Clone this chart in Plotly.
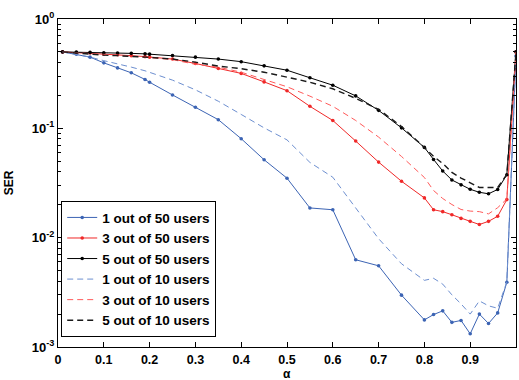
import plotly.graph_objects as go

alpha = [0.01, 0.04, 0.07, 0.10, 0.13, 0.16, 0.19, 0.20, 0.25, 0.30, 0.35, 0.40,
         0.45, 0.50, 0.55, 0.60, 0.65, 0.70, 0.75, 0.80, 0.82, 0.84, 0.86, 0.88,
         0.90, 0.92, 0.94, 0.96, 0.98, 1.00]

ser_1of50 = [0.50, 0.477, 0.448, 0.397, 0.357, 0.322, 0.280, 0.264, 0.202, 0.156, 0.120, 0.0804,
             0.0516, 0.0350, 0.0187, 0.0180, 0.00628, 0.00553, 0.00298, 0.00177, 0.00198, 0.00214,
             0.00168, 0.00175, 0.00132, 0.00200, 0.00164, 0.00205, 0.00391, 0.458]
ser_3of50 = [0.50, 0.493, 0.488, 0.477, 0.472, 0.462, 0.453, 0.448, 0.430, 0.392, 0.353, 0.318,
             0.266, 0.221, 0.159, 0.118, 0.0765, 0.0491, 0.0328, 0.0231, 0.0180, 0.0173,
             0.0162, 0.0150, 0.0141, 0.0132, 0.0141, 0.0157, 0.0223, 0.50]
ser_5of50 = [0.50, 0.498, 0.495, 0.491, 0.488, 0.485, 0.480, 0.477, 0.464, 0.448, 0.430, 0.407,
             0.373, 0.340, 0.290, 0.248, 0.198, 0.146, 0.101, 0.0669, 0.0519, 0.0407,
             0.0337, 0.0304, 0.0277, 0.0260, 0.0252, 0.0276, 0.0376, 0.50]
ser_1of10 = [0.50, 0.477, 0.448, 0.416, 0.391, 0.363, 0.336, 0.326, 0.276, 0.225, 0.177, 0.134,
             0.101, 0.0784, 0.0488, 0.0357, 0.0185, 0.00979, 0.00577, 0.00407, 0.00425, 0.00376,
             0.00300, 0.00248, 0.00200, 0.00264, 0.00238, 0.00226, 0.00395, 0.458]
ser_3of10 = [0.50, 0.493, 0.485, 0.477, 0.467, 0.458, 0.448, 0.443, 0.425, 0.385, 0.363, 0.326,
             0.281, 0.240, 0.197, 0.159, 0.118, 0.0832, 0.0553, 0.0355, 0.0270, 0.0228,
             0.0201, 0.0181, 0.0175, 0.0173, 0.0165, 0.0188, 0.0226, 0.50]
ser_5of10 = [0.50, 0.488, 0.477, 0.467, 0.462, 0.458, 0.448, 0.445, 0.430, 0.403, 0.371, 0.351,
             0.326, 0.294, 0.264, 0.230, 0.188, 0.149, 0.104, 0.0669, 0.0553, 0.0477,
             0.0395, 0.0351, 0.0316, 0.0288, 0.0288, 0.0288, 0.0378, 0.50]

names = ["1 out of 50 users", "3 out of 50 users", "5 out of 50 users",
         "1 out of 10 users", "3 out of 10 users", "5 out of 10 users"]

x_ticks = [0, 0.1, 0.2, 0.3, 0.4, 0.5, 0.6, 0.7, 0.8, 0.9, 1]
x_ticktext = ["0", "0.1", "0.2", "0.3", "0.4", "0.5", "0.6", "0.7", "0.8", "0.9", "1"]
y_ticks = [1e-3, 1e-2, 1e-1, 1]
y_ticktext = ["-3", "-2", "-1", "0"]
y_minor = [m * d for d in (1e-3, 1e-2, 1e-1) for m in range(2, 10)]

BLUE = "#3c64b4"
BLUE_D = "#6d8fd0"
RED = "#f02828"
RED_D = "#ff5a5a"
BLACK = "#000000"
BLACK_D = "#1a1a1a"

FAM = "Liberation Sans, Arial, sans-serif"

fig = go.Figure()
solid = [(ser_1of50, BLUE), (ser_3of50, RED), (ser_5of50, BLACK)]
for (ys, c), nm in zip(solid, names[:3]):
    fig.add_trace(go.Scatter(x=alpha, y=ys, name=nm, mode="lines+markers",
                             line=dict(color=c, width=1),
                             marker=dict(symbol="circle", size=3.6, color=c)))
dashed = [(ser_1of10, BLUE_D, 1), (ser_3of10, RED_D, 1), (ser_5of10, BLACK_D, 1.4)]
for (ys, c, w), nm in zip(dashed, names[3:]):
    fig.add_trace(go.Scatter(x=alpha, y=ys, name=nm, mode="lines",
                             line=dict(color=c, width=w, dash="6px,4px")))

fig.update_layout(
    width=519, height=380,
    margin=dict(l=58, r=3, t=19, b=33),
    paper_bgcolor="white", plot_bgcolor="white",
    font=dict(family=FAM, size=12, color="black"),
    showlegend=True,
    legend=dict(x=0.007, y=0.03, xanchor="left", yanchor="bottom",
                bordercolor="black", borderwidth=1, bgcolor="white",
                font=dict(family=FAM, size=13.5, color="black", weight="bold"),
                itemwidth=30, tracegroupgap=0),
    annotations=[dict(text="<b>α</b>", xref="paper", yref="paper", x=0.5, y=-0.082,
                      xanchor="center", yanchor="middle", showarrow=False,
                      font=dict(family=FAM, size=12, color="black"))],
)
fig.update_xaxes(range=[0, 1], tickvals=x_ticks, automargin=False,
                 ticktext=["<b>%s</b>" % t for t in x_ticktext],
                 tickfont=dict(size=12.5), ticklabelstandoff=1,
                 ticks="inside", ticklen=5, tickcolor="black",
                 showline=True, linecolor="black", linewidth=1, mirror="ticks",
                 showgrid=False, zeroline=False)
fig.update_layout(
    yaxis=dict(type="log", range=[-3, 0], tickvals=y_ticks, automargin=False,
               ticktext=["<b>10</b><sup><b>%s</b></sup>" % t for t in y_ticktext],
               tickfont=dict(size=13),
               ticks="inside", ticklen=5, tickcolor="black",
               showline=True, linecolor="black", linewidth=1, mirror="ticks",
               showgrid=False, zeroline=False,
               title=dict(text="<b>SER</b>", font=dict(size=12))),
    yaxis2=dict(type="log", range=[-3, 0], overlaying="y", anchor="x", side="left",
                tickvals=y_minor, showticklabels=False, automargin=False,
                ticks="inside", ticklen=3, tickcolor="black",
                showline=True, linecolor="black", linewidth=1, mirror="ticks",
                showgrid=False, zeroline=False),
)
# invisible helper trace to activate the minor-tick axis
fig.add_trace(go.Scatter(x=[alpha[0]], y=[ser_1of50[0]], yaxis="y2", mode="markers",
                         marker=dict(opacity=0), showlegend=False, hoverinfo="skip"))

fig.write_html("out.html")
